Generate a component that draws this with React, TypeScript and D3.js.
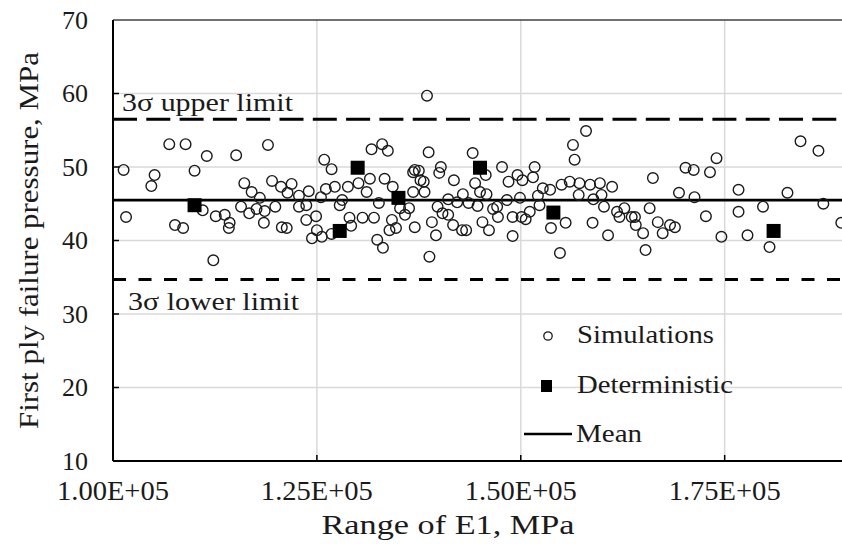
import React from 'react';
import * as d3 from 'd3';

// Monte Carlo simulations: E1 (MPa) vs first ply failure pressure (MPa)
const simE1 = [
  101300, 106900, 108900, 111500, 115100, 119000, 105100, 104700, 110000, 116100,
  117000, 118000, 101600, 111000, 107600, 108600, 112600, 113700, 114300, 114200,
  115700, 116700, 117600, 118500, 112300, 125900, 126800, 131700, 133000, 133700,
  119500, 120600, 121900, 121400, 122800, 124000, 125500, 126100, 127200, 128800,
  130100, 131100, 131500, 133300, 134300, 136800, 136800, 118600, 119900, 122800,
  123700, 127800, 128100, 132600, 135200, 135800, 136300, 120700, 121300, 123700,
  124900, 129000, 129200, 130600, 132000, 134200, 133900, 134700, 137000, 124400,
  125000, 125600, 126800, 132400, 133100, 138700, 144100, 140200, 140000, 137000,
  137500, 137700, 138100, 138200, 141800, 144400, 145700, 145000, 145800, 147700,
  148500, 149600, 150200, 151500, 151700, 152700, 153600, 155000, 152100, 142900,
  141100, 142200, 143600, 144700, 146600, 147100, 148300, 149900, 152300, 139800,
  140400, 141100, 147200, 149000, 150100, 150600, 151100, 139100, 139600, 141700,
  142800, 143300, 145300, 146100, 149000, 153700, 155500, 138800, 154800, 158000,
  156400, 156600, 156000, 157200, 158500, 159700, 161200, 157100, 158900, 159900,
  160200, 161800, 162700, 162100, 163600, 164000, 164100, 165800, 166200, 158800,
  160700, 165000, 166800, 167400, 168300, 168900, 165300, 169400, 170200, 171200,
  171300, 173200, 174000, 172700, 174600, 184300, 186500, 176700, 182700, 176700,
  179700, 187100, 189300, 177800, 180500, 138500,
];
const simPressure = [
  49.6, 53.1, 53.1, 51.5, 51.6, 53.0, 48.9, 47.4, 49.5, 47.8,
  46.6, 45.8, 43.2, 44.1, 42.1, 41.7, 43.3, 43.5, 42.4, 41.7,
  44.6, 43.7, 44.3, 42.4, 37.3, 51.0, 49.7, 52.4, 53.1, 52.2,
  48.1, 47.3, 47.7, 46.5, 46.1, 46.7, 45.9, 47.0, 47.3, 47.3,
  47.8, 46.6, 48.4, 48.4, 47.3, 49.3, 46.6, 44.0, 44.6, 44.6,
  44.8, 44.8, 45.5, 45.1, 44.4, 43.5, 44.4, 41.8, 41.7, 42.8,
  43.3, 43.1, 42.0, 43.1, 43.1, 42.8, 41.4, 41.7, 41.8, 40.3,
  41.4, 40.5, 40.9, 40.1, 39.0, 52.0, 51.9, 50.0, 49.2, 49.6,
  49.5, 48.2, 48.0, 46.6, 48.2, 47.8, 48.9, 46.6, 46.3, 50.0,
  48.0, 48.9, 48.2, 48.6, 50.0, 47.1, 46.9, 47.6, 46.1, 46.3,
  45.6, 45.2, 45.1, 44.7, 44.3, 44.6, 45.5, 45.8, 44.8, 44.6,
  43.7, 43.5, 43.2, 43.2, 43.2, 42.9, 43.9, 42.5, 40.7, 42.1,
  41.4, 41.4, 42.5, 41.4, 40.6, 41.7, 42.4, 37.8, 38.3, 54.9,
  53.0, 51.0, 48.0, 47.8, 47.6, 47.8, 47.3, 46.2, 45.6, 46.2,
  44.6, 43.9, 44.4, 43.2, 43.2, 43.2, 42.1, 44.4, 48.5, 42.4,
  40.7, 41.0, 42.5, 41.0, 42.1, 41.8, 38.7, 46.5, 49.9, 49.6,
  45.9, 49.3, 51.2, 43.3, 40.5, 53.5, 52.2, 46.9, 46.5, 43.9,
  44.6, 45.0, 42.4, 40.7, 39.1, 59.7,
];

const detE1 = [110000, 127800, 130000, 135000, 145000, 154000, 181000];
const detPressure = [44.8, 41.3, 49.9, 45.8, 49.9, 43.8, 41.3];

const meanPressure = 45.5;
const upperLimit = 56.5;
const lowerLimit = 34.7;

const xTicks = [100000, 125000, 150000, 175000];
const xTickLabels = ['1.00E+05', '1.25E+05', '1.50E+05', '1.75E+05'];
const yTicks = [10, 20, 30, 40, 50, 60, 70];

const W = 842;
const H = 544;
const margin = { left: 113, top: 20, bottom: 83 };
const font = '"Liberation Serif", "Times New Roman", serif';
const ink = '#1a1a1a';

export default function App() {
  const x = d3.scaleLinear().domain([100000, 190000]).range([margin.left, 847]);
  const y = d3.scaleLinear().domain([10, 70]).range([H - margin.bottom, margin.top]);
  const x0 = margin.left;
  const x1 = W;

  const sims = simE1.map((e, i) => ({ e, p: simPressure[i] }));
  const dets = detE1.map((e, i) => ({ e, p: detPressure[i] }));

  return (
    <div style={{ position: 'fixed', left: 0, top: 0 }}>
      <svg width={W} height={H} viewBox={`0 0 ${W} ${H}`} style={{ display: 'block', background: '#fff' }}>
        <defs>
          <clipPath id="plot">
            <rect x={x0} y={margin.top - 8} width={x1 - x0} height={y(10) - margin.top + 8} />
          </clipPath>
        </defs>

        {/* grid */}
        <g stroke="#d9d9d9" strokeWidth={1.5}>
          {yTicks.slice(1, -1).map(t => (
            <line key={t} x1={x0} x2={x1} y1={y(t)} y2={y(t)} />
          ))}
          {xTicks.slice(1).map(t => (
            <line key={t} x1={x(t)} x2={x(t)} y1={y(70)} y2={y(10)} />
          ))}
        </g>
        <line x1={x0} x2={x1} y1={y(70)} y2={y(70)} stroke="#404040" strokeWidth={1.3} />

        {/* limits and mean */}
        <line x1={x0} x2={x1} y1={y(upperLimit)} y2={y(upperLimit)} stroke="#000" strokeWidth={3} strokeDasharray="24,9.3" />
        <line x1={x0} x2={x1} y1={y(lowerLimit)} y2={y(lowerLimit)} stroke="#000" strokeWidth={3} strokeDasharray="13,12.5" />
        <line x1={x0} x2={x1} y1={y(meanPressure)} y2={y(meanPressure)} stroke="#000" strokeWidth={2.7} />

        <g clipPath="url(#plot)">
          {sims.map((d, i) => (
            <circle key={i} cx={x(d.e)} cy={y(d.p)} r={5.3} fill="none" stroke={ink} strokeWidth={1.4} />
          ))}
          {dets.map((d, i) => (
            <rect key={i} x={x(d.e) - 7} y={y(d.p) - 7} width={14} height={14} fill="#000" />
          ))}
        </g>

        {/* axes */}
        <line x1={x0} x2={x0} y1={y(70)} y2={y(10)} stroke="#000" strokeWidth={2} />
        <line x1={x0} x2={x1} y1={y(10)} y2={y(10)} stroke="#000" strokeWidth={2} />
        <g stroke="#000" strokeWidth={1.5}>
          {xTicks.slice(1).map(t => (
            <line key={t} x1={x(t)} x2={x(t)} y1={y(10)} y2={y(10) - 6} />
          ))}
          {yTicks.slice(1, -1).map(t => (
            <line key={t} x1={x0} x2={x0 + 6} y1={y(t)} y2={y(t)} />
          ))}
        </g>

        <g fontFamily={font} fill={ink}>
          {yTicks.map(t => (
            <text key={t} x={88} y={y(t)} dy="0.34em" fontSize={26} textAnchor="end">{t}</text>
          ))}
          {xTickLabels.map((label, i) => (
            <text key={label} x={x(xTicks[i])} y={500} fontSize={28} textAnchor="middle"
              textLength={112} lengthAdjust="spacingAndGlyphs">{label}</text>
          ))}
        </g>

        <g fontFamily={font} fill={ink}>
          <text x={448} y={534} fontSize={27} textAnchor="middle" textLength={253} lengthAdjust="spacingAndGlyphs">
            Range of E1, MPa
          </text>
          <text transform={`translate(38, ${(y(70) + y(10)) / 2}) rotate(-90)`} fontSize={27} textAnchor="middle"
            textLength={377} lengthAdjust="spacingAndGlyphs">
            First ply failure pressure, MPa
          </text>
          <text x={122} y={111} fontSize={25} textLength={171} lengthAdjust="spacingAndGlyphs">3σ upper limit</text>
          <text x={128} y={310} fontSize={25} textLength={171} lengthAdjust="spacingAndGlyphs">3σ lower limit</text>
        </g>

        {/* legend */}
        <g fontFamily={font} fontSize={25} fill={ink}>
          <circle cx={548} cy={336} r={4.2} fill="none" stroke={ink} strokeWidth={1.3} />
          <text x={577} y={343} textLength={137} lengthAdjust="spacingAndGlyphs">Simulations</text>
          <rect x={541} y={380} width={11} height={12} fill="#000" />
          <text x={577} y={393} textLength={156} lengthAdjust="spacingAndGlyphs">Deterministic</text>
          <line x1={524} x2={572} y1={434} y2={434} stroke="#000" strokeWidth={2.5} />
          <text x={576} y={442} textLength={66} lengthAdjust="spacingAndGlyphs">Mean</text>
        </g>
      </svg>
    </div>
  );
}
